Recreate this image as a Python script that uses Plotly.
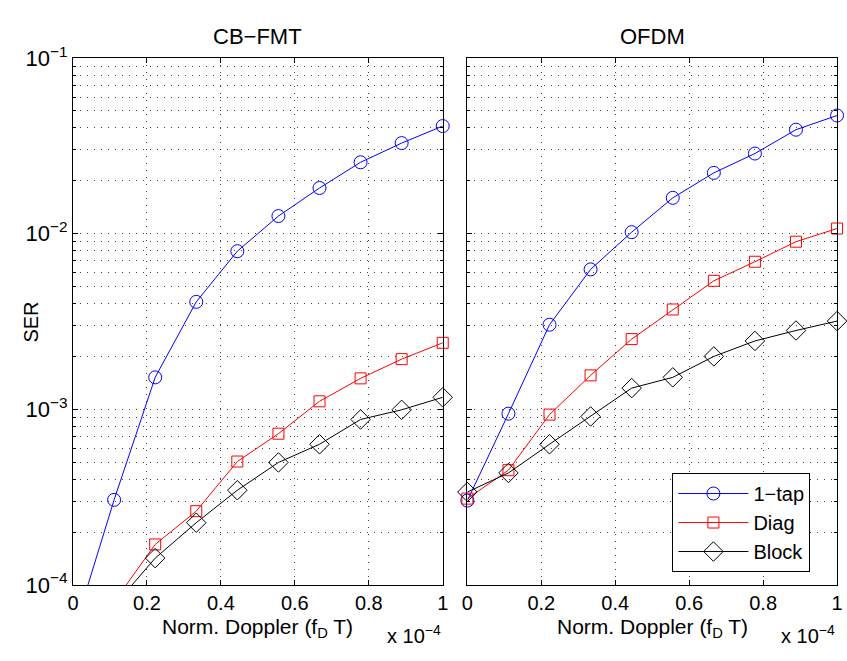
import plotly.graph_objects as go

# Normalized Doppler (f_D T), in units of 1e-4
doppler = [0.0, 0.1111, 0.2222, 0.3333, 0.4444, 0.5556, 0.6667, 0.7778, 0.8889, 1.0]

# Symbol error rate, CB-FMT
fmt_1tap = [5.3e-5, 3.05e-4, 1.52e-3, 4.09e-3, 7.95e-3, 1.26e-2, 1.82e-2, 2.55e-2, 3.28e-2, 4.1e-2]
fmt_diag = [4.5e-5, 8.0e-5, 1.70e-4, 2.63e-4, 5.04e-4, 7.26e-4, 1.11e-3, 1.50e-3, 1.93e-3, 2.39e-3]
fmt_block = [4.0e-5, 7.6e-5, 1.42e-4, 2.26e-4, 3.46e-4, 4.98e-4, 6.32e-4, 8.75e-4, 9.93e-4, 1.17e-3]

# Symbol error rate, OFDM
ofdm_1tap = [3.02e-4, 9.44e-4, 3.03e-3, 6.26e-3, 1.02e-2, 1.60e-2, 2.22e-2, 2.86e-2, 3.91e-2, 4.71e-2]
ofdm_diag = [3.1e-4, 4.5e-4, 9.33e-4, 1.56e-3, 2.51e-3, 3.70e-3, 5.39e-3, 6.92e-3, 9.0e-3, 1.07e-2]
ofdm_block = [3.38e-4, 4.34e-4, 6.32e-4, 9.1e-4, 1.32e-3, 1.52e-3, 2.0e-3, 2.45e-3, 2.81e-3, 3.18e-3]

panel_titles = ["CB\u2212FMT", "OFDM"]
series_names = ["1\u2212tap", "Diag", "Block"]
x_ticks = [0, 0.2, 0.4, 0.6, 0.8, 1.0]
x_tick_text = ["0", "0.2", "0.4", "0.6", "0.8", "1"]
y_ticks = [1e-4, 1e-3, 1e-2, 1e-1]
y_tick_text = ["10<sup>\u22124</sup>", "10<sup>\u22123</sup>", "10<sup>\u22122</sup>", "10<sup>\u22121</sup>"]
y_minor = [m * d for d in (1e-4, 1e-3, 1e-2) for m in range(2, 10)]

Y_MIN, Y_MAX = 1e-4, 1e-1
FONT = "Liberation Sans, Arial, Helvetica, sans-serif"
DOT = "1px,6px"
GRID = "rgba(0,0,0,0.75)"

styles = [
    dict(color="#0000ff", symbol="circle-open", size=13),
    dict(color="#ff0000", symbol="square-open", size=11),
    dict(color="#000000", symbol="diamond-open", size=15),
]

panels = [
    ("x", "y", [fmt_1tap, fmt_diag, fmt_block]),
    ("x2", "y2", [ofdm_1tap, ofdm_diag, ofdm_block]),
]

fig = go.Figure()
for xa, ya, series in panels:
    for vals, st in zip(series, styles):
        # connecting line, clipped to the axes box
        fig.add_trace(go.Scatter(
            x=doppler, y=vals, xaxis=xa, yaxis=ya, mode="lines",
            line=dict(color=st["color"], width=1), cliponaxis=True,
            showlegend=False, hoverinfo="skip"))
        # markers for points inside the plotted range, drawn over the box edge
        pts = [(d, v) for d, v in zip(doppler, vals) if Y_MIN <= v <= Y_MAX]
        fig.add_trace(go.Scatter(
            x=[p[0] for p in pts], y=[p[1] for p in pts], xaxis=xa, yaxis=ya,
            mode="markers", cliponaxis=False, showlegend=False,
            marker=dict(symbol=st["symbol"], size=st["size"], color=st["color"],
                        line=dict(color=st["color"], width=1))))

# legend entries
for name, st in zip(series_names, styles):
    fig.add_trace(go.Scatter(
        x=[None], y=[None], xaxis="x2", yaxis="y2", mode="lines+markers", name=name,
        line=dict(color=st["color"], width=1),
        marker=dict(symbol=st["symbol"], size=st["size"], color=st["color"],
                    line=dict(color=st["color"], width=1))))

W, H = 847, 661
x_domains = [[68 / W, 443 / W], [468 / W, 843 / W]]
y_domain = [(H - 595) / H, (H - 44) / H]

common_x = dict(
    range=[0, 1], tickvals=x_ticks, ticktext=x_tick_text, ticks="inside", ticklen=5,
    tickcolor="black", showline=True, linecolor="black", linewidth=1, mirror="allticks",
    showgrid=True, gridcolor=GRID, griddash=DOT, gridwidth=1, zeroline=False,
    tickfont=dict(family=FONT, size=20, color="black"),
)
common_y = dict(
    type="log", range=[-4, -1], tickvals=y_ticks, ticktext=y_tick_text, ticks="inside",
    ticklen=5, tickcolor="black", showline=True, linecolor="black", linewidth=1,
    mirror="allticks", showgrid=True, gridcolor=GRID, griddash=DOT, gridwidth=1,
    zeroline=False, domain=y_domain, tickfont=dict(family=FONT, size=22, color="black"),
    minor=dict(tickvals=y_minor, ticks="inside", ticklen=3, tickcolor="black",
               showgrid=True, gridcolor=GRID, griddash=DOT, gridwidth=1),
)

fig.update_layout(
    width=W, height=H, margin=dict(l=0, r=0, t=0, b=0),
    paper_bgcolor="white", plot_bgcolor="white",
    font=dict(family=FONT, size=20, color="black"),
    xaxis=dict(common_x, domain=x_domains[0], anchor="y"),
    xaxis2=dict(common_x, domain=x_domains[1], anchor="y2"),
    yaxis=dict(common_y, anchor="x"),
    yaxis2=dict(common_y, anchor="x2", showticklabels=False),
    legend=dict(x=676 / W, y=1 - 478 / H, xanchor="left", yanchor="top",
                bgcolor="white", bordercolor="black", borderwidth=1,
                font=dict(family=FONT, size=20, color="black"), itemwidth=70,
                tracegroupgap=0),
)

annotations = []
for i, title in enumerate(panel_titles):
    cx = (x_domains[i][0] + x_domains[i][1]) / 2
    annotations.append(dict(text=title, x=cx, y=1 - 21 / H, xref="paper", yref="paper",
                            xanchor="center", yanchor="middle", showarrow=False,
                            font=dict(family=FONT, size=22)))
    annotations.append(dict(text="Norm. Doppler (f<sub>D</sub> T)", x=cx, y=1 - 640 / H,
                            xref="paper", yref="paper", xanchor="center", yanchor="middle",
                            showarrow=False, font=dict(family=FONT, size=21)))
    annotations.append(dict(text="x 10<sup>\u22124</sup>", x=x_domains[i][1], y=1 - 647 / H,
                            xref="paper", yref="paper", xanchor="right", yanchor="middle",
                            showarrow=False, font=dict(family=FONT, size=20)))
annotations.append(dict(text="SER", x=25 / W, y=1 - 320 / H, xref="paper", yref="paper",
                        xanchor="center", yanchor="middle", textangle=-90, showarrow=False,
                        font=dict(family=FONT, size=20)))
fig.update_layout(annotations=annotations)

fig.write_html("out.html")
